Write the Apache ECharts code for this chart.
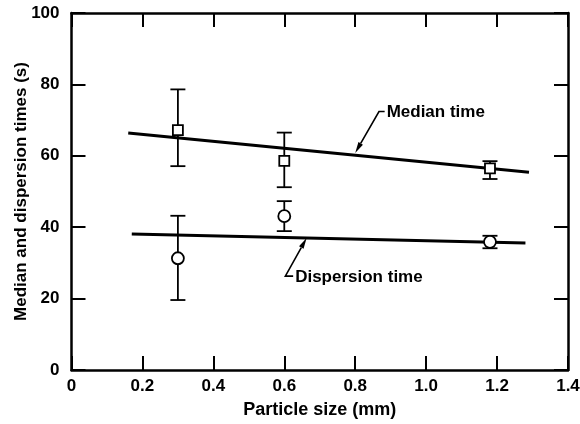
<!DOCTYPE html>
<html>
<head>
<meta charset="utf-8">
<script src="https://cdn.jsdelivr.net/npm/echarts@6/dist/echarts.min.js"></script>
<style>
  html, body { margin: 0; padding: 0; background: #fff; }
  #chart { width: 580px; height: 424px; }
</style>
</head>
<body>
<div id="chart"></div>
<script>
// measured points (particle size in mm)
const particleSize = [0.3, 0.6, 1.18]
const medianTime = [67.2, 58.6, 56.5]
const medianLow = [57.1, 51.2, 53.5]
const medianHigh = [78.6, 66.5, 58.5]
const dispersionTime = [31.3, 43.1, 35.9]
const dispersionLow = [19.6, 38.9, 34.1]
const dispersionHigh = [43.2, 47.3, 37.6]

// fitted lines (end points)
const medianFitX = [0.16, 1.29]
const medianFitY = [66.4, 55.4]
const dispersionFitX = [0.17, 1.28]
const dispersionFitY = [38.1, 35.6]

// annotations: arrow tip, bend, hook end, label
const noteLabels = ['Median time', 'Dispersion time']
const noteTip = [[0.80, 60.8], [0.663, 37.0]]
const noteBend = [[0.867, 72.4], [0.603, 26.3]]
const noteEnd = [[0.883, 72.4], [0.625, 26.3]]

const FONT = '"Liberation Sans", Arial, sans-serif'
const chart = echarts.init(document.getElementById('chart'))

function errorBars(low, high) {
    return particleSize.map((x, i) => [x, low[i], high[i]])
}

function renderError(params, api) {
    const top = api.coord([api.value(0), api.value(2)])
    const bot = api.coord([api.value(0), api.value(1)])
    const cap = 7.5
    const style = { stroke: '#000', lineWidth: 1.8 }
    return {
        type: 'group',
        children: [
            { type: 'line', shape: { x1: top[0], y1: top[1], x2: bot[0], y2: bot[1] }, style: style },
            { type: 'line', shape: { x1: top[0] - cap, y1: top[1], x2: top[0] + cap, y2: top[1] }, style: style },
            { type: 'line', shape: { x1: bot[0] - cap, y1: bot[1], x2: bot[0] + cap, y2: bot[1] }, style: style }
        ]
    }
}

function renderNote(params, api) {
    const i = params.dataIndex
    const tip = api.coord(noteTip[i])
    const bend = api.coord(noteBend[i])
    const end = api.coord(noteEnd[i])
    const dx = tip[0] - bend[0], dy = tip[1] - bend[1]
    const len = Math.sqrt(dx * dx + dy * dy)
    const ux = dx / len, uy = dy / len
    const hl = 11, hw = 2.6
    const bx = tip[0] - ux * hl, by = tip[1] - uy * hl
    return {
        type: 'group',
        children: [
            { type: 'polyline', shape: { points: [end, bend, [bx, by]] },
              style: { stroke: '#000', lineWidth: 1.6, fill: null } },
            { type: 'polygon', shape: { points: [tip, [bx - uy * hw, by + ux * hw], [bx + uy * hw, by - ux * hw]] },
              style: { fill: '#000' } },
            { type: 'text', x: end[0] + 2, y: end[1] + 1,
              style: { text: noteLabels[i], font: 'bold 17px ' + FONT, fill: '#000',
                       align: 'left', verticalAlign: 'middle' } }
        ]
    }
}

const axisCommon = {
    type: 'value',
    splitLine: { show: false },
    axisLine: { show: true, onZero: false, lineStyle: { color: '#000', width: 2.5 } },
    axisTick: { show: true, inside: true, length: 14, lineStyle: { color: '#000', width: 2 } }
}

chart.setOption({
    animation: false,
    backgroundColor: '#fff',
    grid: { left: 71.5, right: 12, top: 13, bottom: 54, outerBoundsMode: 'none', containLabel: false },
    xAxis: [
        Object.assign({}, axisCommon, {
            min: 0, max: 1.4, interval: 0.2,
            name: 'Particle size (mm)', nameLocation: 'middle', nameGap: 31,
            nameTextStyle: { color: '#000', fontFamily: FONT, fontWeight: 'bold', fontSize: 18 },
            axisLabel: { color: '#000', fontFamily: FONT, fontWeight: 'bold', fontSize: 17, margin: 8,
                formatter: v => (v === 0 ? '0' : v.toFixed(1)) }
        }),
        Object.assign({}, axisCommon, {
            position: 'top', min: 0, max: 1.4, interval: 0.2,
            axisLabel: { show: false }
        })
    ],
    yAxis: [
        Object.assign({}, axisCommon, {
            min: 0, max: 100, interval: 20,
            name: 'Median and dispersion times (s)', nameLocation: 'middle', nameGap: 42,
            nameMoveOverlap: false,
            nameTextStyle: { color: '#000', fontFamily: FONT, fontWeight: 'bold', fontSize: 17 },
            axisLabel: { color: '#000', fontFamily: FONT, fontWeight: 'bold', fontSize: 17, margin: 12 }
        }),
        Object.assign({}, axisCommon, {
            position: 'right', min: 0, max: 100, interval: 20,
            axisLabel: { show: false }
        })
    ],
    series: [
        {
            type: 'line', name: 'Median fit', symbol: 'none', z: 2,
            lineStyle: { color: '#000', width: 3 },
            data: medianFitX.map((x, i) => [x, medianFitY[i]])
        },
        {
            type: 'line', name: 'Dispersion fit', symbol: 'none', z: 2,
            lineStyle: { color: '#000', width: 3 },
            data: dispersionFitX.map((x, i) => [x, dispersionFitY[i]])
        },
        { type: 'custom', z: 3, renderItem: renderError, data: errorBars(medianLow, medianHigh) },
        { type: 'custom', z: 3, renderItem: renderError, data: errorBars(dispersionLow, dispersionHigh) },
        {
            type: 'scatter', name: 'Median time', symbol: 'rect', symbolSize: 10, z: 5,
            itemStyle: { color: '#fff', borderColor: '#000', borderWidth: 1.8, opacity: 1 },
            data: particleSize.map((x, i) => [x, medianTime[i]])
        },
        {
            type: 'scatter', name: 'Dispersion time', symbol: 'circle', symbolSize: 12, z: 5,
            itemStyle: { color: '#fff', borderColor: '#000', borderWidth: 1.8, opacity: 1 },
            data: particleSize.map((x, i) => [x, dispersionTime[i]])
        },
        { type: 'custom', z: 6, renderItem: renderNote, data: noteLabels.map((l, i) => [i]) }
    ]
})
</script>
</body>
</html>
